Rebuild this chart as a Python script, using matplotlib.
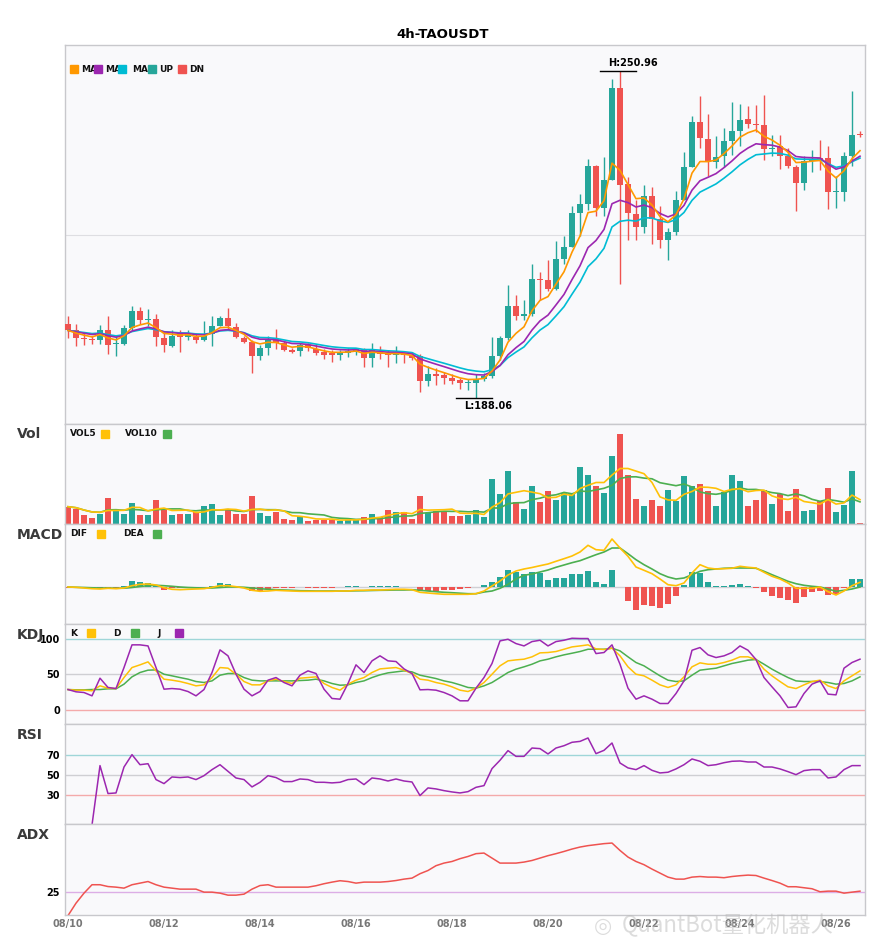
import numpy as np
import pandas as pd
import matplotlib
matplotlib.use('Agg')
import matplotlib.pyplot as plt
from matplotlib.patches import Rectangle

# данные свечей 4h TAOUSDT (читано с картинки)
opens = [202.37, 201.08, 199.48, 199.42, 199.15, 201.21, 198.38, 198.38, 201.60, 204.81,
         203.14, 203.27, 199.67, 198.13, 200.38, 199.81, 199.81, 199.15, 200.44, 201.98,
         203.52, 201.73, 199.67, 198.90, 196.07, 197.61, 199.42, 198.65, 197.36, 197.10,
         198.27, 197.50, 196.84, 196.72, 196.26, 196.65, 196.92, 197.36, 195.70, 196.92,
         196.52, 196.30, 196.65, 196.40, 196.07, 191.25, 192.74, 192.49, 191.97, 191.45,
         190.94, 191.00, 191.71, 192.20, 196.07, 199.62, 205.70, 203.90, 204.30, 211.04,
         210.85, 209.05, 214.83, 217.10, 223.69, 225.48, 232.80, 224.58, 230.10, 247.76,
         229.33, 223.55, 221.00, 226.89, 222.53, 218.42, 219.96, 226.12, 232.54, 241.27,
         237.94, 233.57, 234.59, 237.62, 239.54, 241.85, 240.89, 240.70, 236.07, 236.52,
         234.72, 232.54, 229.46, 233.63, 234.20, 234.20, 227.67, 227.80, 234.72, 238.90]
highs = [203.91, 202.37, 200.69, 199.92, 202.18, 203.91, 199.92, 202.18, 205.83, 205.58,
         205.20, 204.29, 200.83, 201.21, 201.21, 201.21, 200.58, 202.89, 203.91, 203.91,
         205.45, 202.50, 199.92, 199.29, 198.33, 199.92, 201.35, 198.96, 197.75, 198.71,
         198.71, 198.52, 197.50, 197.36, 197.36, 197.69, 197.75, 197.75, 198.65, 197.99,
         197.23, 197.99, 196.72, 196.84, 196.59, 194.15, 193.76, 193.13, 192.74, 191.97,
         191.78, 192.74, 192.93, 199.81, 200.06, 209.88, 207.95, 206.99, 213.92, 212.25,
         214.70, 218.22, 219.18, 224.96, 227.40, 234.15, 232.99, 234.47, 249.55, 250.96,
         230.62, 226.25, 229.14, 228.62, 224.96, 220.80, 227.98, 235.36, 242.30, 246.15,
         242.68, 238.44, 240.06, 245.12, 244.60, 244.22, 244.55, 246.47, 238.77, 238.77,
         236.20, 232.99, 234.59, 235.75, 237.80, 236.52, 230.74, 235.36, 247.11, 239.41]
lows = [199.54, 197.99, 198.27, 198.38, 198.38, 196.45, 196.07, 198.19, 201.21, 202.37,
        201.85, 197.99, 196.98, 197.88, 196.84, 199.15, 198.65, 198.96, 197.99, 201.85,
        201.21, 199.67, 198.65, 192.87, 195.44, 196.40, 197.50, 197.17, 196.79, 196.07,
        197.04, 196.40, 195.57, 194.92, 195.44, 196.00, 196.40, 194.09, 194.09, 195.63,
        194.03, 194.80, 194.80, 195.44, 189.14, 190.43, 190.62, 190.81, 190.81, 189.86,
        189.66, 188.06, 191.39, 191.97, 195.44, 199.29, 203.00, 203.00, 203.90, 206.99,
        208.60, 208.90, 213.92, 217.10, 219.18, 224.33, 223.04, 223.04, 230.10, 210.07,
        218.55, 218.55, 219.84, 217.78, 216.95, 214.70, 219.50, 226.12, 232.54, 236.20,
        230.87, 232.35, 232.54, 234.92, 236.52, 240.06, 239.21, 233.82, 234.59, 232.16,
        232.30, 224.00, 228.18, 231.51, 232.03, 224.46, 224.65, 225.92, 232.67, 238.32]
closes = [201.08, 199.54, 199.36, 199.15, 201.21, 198.27, 198.52, 201.60, 204.81, 203.14,
          203.24, 199.81, 198.27, 200.06, 199.81, 200.38, 199.29, 200.06, 201.98, 203.52,
          201.85, 199.81, 198.90, 196.07, 197.61, 199.42, 198.65, 197.36, 196.98, 198.33,
          197.69, 196.72, 196.40, 196.30, 196.84, 197.04, 197.50, 195.70, 197.36, 196.52,
          196.30, 196.65, 196.30, 195.70, 191.25, 192.74, 192.35, 191.97, 191.39, 190.94,
          191.00, 191.71, 192.20, 196.07, 199.62, 205.70, 203.90, 204.30, 211.04, 210.85,
          209.05, 214.83, 217.10, 223.69, 225.48, 232.80, 224.58, 230.10, 247.76, 229.14,
          223.69, 221.00, 226.89, 222.53, 218.55, 219.96, 226.12, 232.54, 241.27, 238.06,
          233.57, 234.47, 237.62, 239.54, 241.66, 240.89, 240.70, 236.07, 236.30, 234.72,
          232.67, 229.46, 233.63, 234.08, 234.08, 227.67, 227.80, 234.59, 238.77, 238.80]
volume = [17.3, 15.3, 9.3, 6.3, 10.3, 26.3, 15.3, 10.3, 21.3, 9.3,
          9.3, 24.3, 15.3, 9.3, 10.3, 10.3, 12.3, 18.3, 20.3, 9.3,
          14.3, 10.3, 10.3, 28.3, 11.3, 8.3, 12.3, 5.3, 4.3, 8.3,
          3.3, 4.3, 4.3, 4.3, 3.3, 4.3, 4.3, 7.3, 10.3, 7.3,
          14.3, 12.3, 12.3, 5.3, 28.3, 11.3, 13.3, 13.3, 8.3, 8.3,
          9.3, 14.3, 7.3, 45.3, 30.3, 53.3, 22.3, 15.3, 38.3, 22.3,
          33.3, 24.3, 31.3, 31.3, 57.3, 49.3, 38.3, 31.3, 68.3, 90.3,
          49.3, 25.3, 18.3, 24.3, 18.3, 34.3, 23.3, 48.3, 38.3, 40.3,
          33.3, 18.3, 32.3, 49.3, 43.3, 18.3, 24.3, 34.3, 20.3, 30.3,
          13.3, 35.3, 13.3, 14.3, 23.3, 36.3, 12.3, 19.3, 53.3, 0.7]

# индикаторы
dif = [0, -0.3, -1, -1.7, -2, -1.3, -1.7, -1, 1.3, 2.7,
       3, 2, -0.7, -2.3, -2.7, -2.3, -2, -1.7, -0.3, 1.3,
       1.3, 0.3, -1, -3.3, -4.3, -4, -3.3, -3.7, -4, -4.3,
       -4.3, -4.3, -4.3, -4.3, -4, -4, -3.3, -3.3, -3, -3,
       -2.7, -2.3, -2.3, -2.7, -5.3, -6, -6.7, -7.3, -7.3, -7.3,
       -7.3, -6.7, -4, 1, 6, 12, 16, 18, 19.5, 21.3,
       23, 25.7, 28.3, 31, 35, 41.7, 37.3, 36.7, 48, 39,
       30.7, 20, 16.7, 13.3, 8, 2.3, 1.3, 4, 14, 22.3,
       19, 18, 18.3, 18.7, 20.7, 19.7, 19, 14.7, 10.7, 8,
       4, -1.3, -1.3, -1.3, 0, -4.7, -8, -4, 1.3, 4.7]
dea = [0, -0.3, -0.5, -0.8, -1, -1, -1.2, -1.2, -0.5, 0.5,
       1.3, 1.7, 1.3, 0.7, 0, -0.5, -0.8, -1, -1, -0.5,
       0, 0, -0.3, -1, -1.7, -2.3, -2.7, -3, -3.3, -3.7,
       -3.8, -4, -4, -4, -4, -4, -3.8, -3.7, -3.5, -3.3,
       -3.2, -3, -3, -2.8, -3.3, -4, -4.7, -5.3, -5.7, -6.2,
       -6.7, -6.7, -5, -4, -1.3, 2.7, 8, 11.7, 13, 15,
       17, 19.7, 22, 24.3, 26.3, 29.3, 32.3, 35, 39, 39,
       33.3, 27.3, 22.3, 18, 13.3, 10, 8, 9, 12.3, 15.7,
       17.3, 18, 18.7, 19, 19, 19, 18.7, 15.7, 12.3, 9,
       5.7, 3.3, 1.7, 0.7, 0, -2, -4.3, -3.3, -2, 0]
macd_hist = [-0.7, -0.7, -1.3, -1.3, -0.7, -2, -2, 1, 6, 5,
             4, 0.7, -3, -1.3, -1, -1, -1.3, -0.3, 1.3, 4,
             3, 0.3, -1, -4, -3.7, -2, -1.3, -1.3, -0.7, -0.3,
             -0.7, -0.7, -0.7, -0.7, -0.3, 1, 1, -0.3, 1, 1,
             1, 1, 0.3, -0.3, -4, -4, -3.7, -3.3, -3, -2,
             -1, -0.3, 2.3, 5, 10, 17, 15, 12.7, 15, 13.7,
             7.3, 9.3, 9.3, 13.3, 12.7, 16, 5, 2.7, 17, 0.3,
             -14.3, -22.7, -18.3, -18.7, -21.3, -17.3, -9.3, 2.3, 14.7, 14.3,
             5.3, 1, 1, 2, 3.3, 1, -0.7, -5, -9.3, -11,
             -12.7, -15.7, -10, -5, -4, -8, -7.3, -1, 7.7, 8.3]
k_val = [28.6, 27.7, 27.7, 26.8, 33.8, 30.5, 30.0, 45.5, 59.6, 63.4,
         67.6, 54.9, 43.2, 41.8, 39.9, 37.1, 33.8, 35.2, 45.5, 59.6,
         58.7, 50.2, 39.9, 35.2, 35.2, 40.8, 43.2, 39.9, 37.1, 44.6,
         45.5, 46.5, 37.1, 31.5, 27.7, 36.2, 41.8, 45.5, 52.6, 57.7,
         58.7, 59.6, 55.9, 51.2, 43.2, 41.8, 38.5, 36.2, 32.4, 27.7,
         25.8, 30.5, 38.5, 50.2, 62.0, 69.0, 70.4, 71.4, 74.7, 80.3,
         80.8, 82.2, 85.4, 88.7, 90.1, 91.6, 85.9, 85.0, 86.9, 76.1,
         60.6, 50.2, 47.9, 41.8, 35.2, 31.5, 35.2, 46.5, 60.6, 66.2,
         64.3, 64.3, 66.7, 70.0, 74.7, 74.7, 70.9, 57.3, 47.9, 39.9,
         32.4, 30.0, 35.2, 39.9, 41.8, 33.8, 30.0, 40.8, 47.9, 54.9]
d_val = [28.6, 28.2, 28.2, 28.6, 28.6, 29.6, 29.6, 36.2, 46.5, 52.6,
         55.9, 56.3, 50.2, 47.9, 45.5, 43.2, 39.9, 38.5, 40.8, 48.8,
         51.2, 51.2, 45.5, 41.8, 40.8, 40.8, 40.8, 40.8, 40.8, 41.3,
         41.8, 43.2, 40.8, 37.1, 34.7, 35.2, 38.5, 40.8, 45.5, 49.3,
         52.1, 53.5, 54.9, 53.5, 48.8, 46.5, 44.1, 40.8, 38.5, 35.2,
         31.5, 30.5, 33.8, 38.5, 45.5, 52.6, 57.3, 60.6, 64.3, 69.0,
         71.4, 74.7, 77.5, 79.8, 82.2, 85.4, 85.4, 85.4, 86.9, 83.1,
         74.7, 66.7, 62.0, 54.9, 47.9, 41.8, 39.9, 40.8, 48.8, 55.9,
         57.3, 58.7, 62.0, 65.3, 67.6, 70.0, 70.9, 64.3, 57.3, 51.2,
         45.5, 40.8, 39.9, 39.9, 39.9, 38.5, 36.2, 37.1, 40.8, 46.5]
j_val = [28.6, 25.4, 24.4, 19.7, 44.6, 31.5, 30.0, 59.6, 91.6, 91.6,
         90.1, 59.6, 29.1, 30.0, 29.1, 25.8, 19.7, 28.6, 52.6, 84.5,
         76.1, 50.2, 29.1, 19.7, 25.8, 41.8, 45.5, 38.5, 33.8, 48.8,
         54.9, 51.2, 29.1, 16.0, 15.0, 37.1, 63.4, 52.6, 69.0, 76.1,
         69.0, 68.1, 57.7, 51.2, 28.2, 28.6, 27.7, 24.4, 19.7, 12.7,
         12.7, 30.5, 45.5, 65.3, 97.2, 99.5, 93.4, 90.1, 96.2, 98.1,
         90.1, 96.2, 98.1, 100.9, 100.5, 100.5, 79.3, 80.8, 91.6, 64.3,
         30.5, 15.0, 19.7, 15.0, 8.9, 8.9, 23.0, 40.8, 84.0, 87.8,
         77.5, 73.7, 76.1, 80.8, 90.1, 84.0, 70.9, 45.5, 32.4, 19.7,
         3.3, 4.2, 23.0, 36.2, 40.8, 22.1, 21.1, 58.7, 66.7, 71.4]
rsi = [np.nan, np.nan, np.nan, 0, 59.1, 31.3, 31.9, 57.7, 70, 60,
       61, 45.2, 41.2, 47.8, 47.2, 47.8, 45.2, 49.1, 55.1, 60,
       53.4, 46.8, 45.2, 37.9, 42.5, 49.1, 47.2, 43.2, 43.2, 45.8,
       45.2, 42.5, 42.5, 41.9, 42.5, 45.2, 45.8, 40.2, 46.8, 45.8,
       43.8, 45.8, 43.8, 42.8, 29.3, 36.9, 35.9, 34.2, 32.9, 31.9,
       33.2, 37.5, 39.2, 56.1, 64.4, 74, 68.3, 68.3, 76.6, 76,
       70.7, 76.6, 78.9, 82.3, 83.2, 86.6, 71, 74.3, 81.6, 61.7,
       56.8, 55.1, 59.1, 54.4, 51.8, 52.5, 55.8, 60, 65.7, 63.4,
       59.1, 60, 62, 63.4, 63.7, 62.7, 62.7, 57.7, 57.7, 55.8,
       53.1, 50.1, 54.1, 55.1, 55.1, 46.8, 47.8, 55.1, 59.1, 59.1]
adx = [13.3, 19.5, 24.5, 28.7, 28.7, 27.8, 27.5, 27, 28.7, 29.5,
       30.3, 28.7, 27.5, 27, 26.5, 26.5, 26.5, 25, 25, 24.5,
       23.5, 23.5, 24, 26.5, 28.3, 28.7, 27.5, 27.5, 27.5, 27.5,
       27.5, 28.2, 29.2, 30, 30.7, 30.3, 29.5, 30, 30, 30,
       30.3, 30.8, 31.5, 32, 34.2, 35.8, 38.2, 39.5, 40.3, 41.7,
       42.8, 44.2, 44.5, 42, 39.5, 39.5, 39.5, 40, 40.8, 42,
       43.2, 44.2, 45.3, 46.5, 47.5, 48.2, 48.7, 49.2, 49.5, 45.8,
       42.5, 40.3, 38.7, 36.5, 34.5, 32.5, 31.5, 31.5, 32.5, 32.8,
       32.5, 32.5, 32.2, 32.8, 33.2, 33.5, 33.3, 32, 30.8, 29.5,
       27.7, 27.7, 27.2, 26.7, 25.2, 25.5, 25.5, 24.5, 25, 25.5]
date_ticks = ['08/10', '08/12', '08/14', '08/16', '08/18', '08/20', '08/22', '08/24', '08/26']

UP = '#26a69a'
DN = '#ef5350'
BG = '#f9f9fb'
EDGE = '#c8c8cc'

n = len(closes)
x = np.arange(n)
cl = pd.Series(closes)
# скользящие (экспоненциальные) — так линии ложатся как на картинке
ma_fast = cl.ewm(span=5, adjust=False).mean()
ma_mid = cl.ewm(span=10, adjust=False).mean()
ma_slow = cl.ewm(span=14, adjust=False).mean()
vs = pd.Series(volume)
vol5 = vs.rolling(5, min_periods=1).mean()
vol10 = vs.rolling(10, min_periods=1).mean()
colors = [UP if c >= o else DN for o, c in zip(opens, closes)]

W, H = 885, 950
fig = plt.figure(figsize=(W / 100, H / 100), dpi=100)
fig.patch.set_facecolor('white')


def add_panel(top, bottom):
    ax = fig.add_axes([65 / W, 1 - bottom / H, 800 / W, (bottom - top) / H])
    ax.set_facecolor(BG)
    for s in ax.spines.values():
        s.set_color(EDGE)
        s.set_linewidth(1)
    ax.set_xlim(-0.375, n - 0.375)
    ax.tick_params(length=0, labelsize=7)
    ax.set_xticks([])
    ax.set_yticks([])
    return ax


def legend_item(xp, yp, label, color, gap):
    if label:
        fig.text(xp / W, 1 - yp / H, label, fontsize=6.5, fontweight='bold',
                 va='center', ha='left', color='#111111')
    fig.patches.append(Rectangle(((xp + gap) / W, 1 - (yp + 4) / H), 8 / W, 8 / H,
                                 transform=fig.transFigure, color=color, zorder=5))


# главный график
ax = add_panel(45, 424)
ax.set_ylim(183.05, 256.05)
ax.axhline((183.05 + 256.05) / 2, color='#dedee2', lw=0.8, zorder=0)
ax.vlines(x, lows, highs, colors=colors, lw=1, zorder=2)
body_bottom = np.minimum(opens, closes)
body_h = np.maximum(np.abs(np.array(closes) - np.array(opens)), 0.2)
ax.bar(x, body_h, bottom=body_bottom, width=0.68, color=colors, zorder=3)
ax.plot(x, ma_slow, color='#00bcd4', lw=1.2, zorder=4)
ax.plot(x, ma_mid, color='#9c27b0', lw=1.2, zorder=4)
ax.plot(x, ma_fast, color='#ff9800', lw=1.2, zorder=4)
hi_i = int(np.argmax(highs))
lo_i = int(np.argmin(lows))
ax.plot([hi_i - 2.5, hi_i + 2], [highs[hi_i]] * 2, color='black', lw=1)
ax.text(hi_i - 1.5, highs[hi_i] + 0.6, 'H:%.2f' % highs[hi_i], fontsize=7,
        fontweight='bold', ha='left', va='bottom')
ax.plot([lo_i - 2.5, lo_i + 2], [lows[lo_i]] * 2, color='black', lw=1)
ax.text(lo_i - 1.5, lows[lo_i] - 0.6, 'L:%.2f' % lows[lo_i], fontsize=7,
        fontweight='bold', ha='left', va='top')

legend_item(81, 69, 'MA', '#ff9800', -11)
legend_item(105, 69, 'MA', '#9c27b0', -11)
legend_item(132, 69, 'MA', '#00bcd4', -14)
legend_item(159, 69, 'UP', UP, -11)
legend_item(189, 69, 'DN', DN, -11)

# объём
axv = add_panel(424, 524)
axv.set_ylim(0, 100)
axv.bar(x, volume, width=0.66, color=colors)
axv.plot(x, vol10, color='#4caf50', lw=1.2)
axv.plot(x, vol5, color='#ffc107', lw=1.2)
legend_item(70, 434, 'VOL5', '#ffc107', 31)
legend_item(125, 434, 'VOL10', '#4caf50', 38)

# MACD
axm = add_panel(524, 624)
axm.set_ylim(-37, 63)
axm.axhline(0, color='#d0d0d4', lw=1, zorder=0)
hcol = [UP if h >= 0 else DN for h in macd_hist]
axm.bar(x, macd_hist, width=0.66, color=hcol)
axm.plot(x, dea, color='#4caf50', lw=1.2)
axm.plot(x, dif, color='#ffc107', lw=1.2)
legend_item(70, 534, 'DIF', '#ffc107', 27)
legend_item(123, 534, 'DEA', '#4caf50', 30)

# KDJ
axk = add_panel(624, 724)
axk.set_ylim(-20, 121)
axk.axhline(100, color='#9fd6d8', lw=1)
axk.axhline(50, color='#cfcfd3', lw=1)
axk.axhline(0, color='#f4aaaa', lw=1)
axk.plot(x, d_val, color='#4caf50', lw=1.1)
axk.plot(x, k_val, color='#ffc107', lw=1.1)
axk.plot(x, j_val, color='#9c27b0', lw=1.1)
axk.set_yticks([0, 50, 100])
axk.set_yticklabels(['0', '50', '100'], fontweight='bold')
legend_item(70, 633, 'K', '#ffc107', 17)
legend_item(113, 633, 'D', '#4caf50', 18)
legend_item(157, 633, 'J', '#9c27b0', 18)

# RSI
axr = add_panel(724, 824)
axr.set_ylim(1, 100.5)
axr.axhline(70, color='#9fd6d8', lw=1)
axr.axhline(50, color='#cfcfd3', lw=1)
axr.axhline(30, color='#f4aaaa', lw=1)
axr.plot(x, rsi, color='#9c27b0', lw=1.1)
axr.set_yticks([30, 50, 70])
axr.set_yticklabels(['30', '50', '70'], fontweight='bold')

# ADX
axa = add_panel(824, 915)
axa.set_ylim(13.6, 59)
axa.axhline(25, color='#dcaee6', lw=1)
axa.plot(x, adx, color='#ef5350', lw=1.1)
axa.set_yticks([25])
axa.set_yticklabels(['25'], fontweight='bold')
axa.set_xticks(np.arange(0, n, 12))
axa.set_xticklabels(date_ticks, fontweight='bold', color='#777777', fontsize=7)
axa.tick_params(axis='x', pad=3)

fig.text(443 / W, 1 - 34 / H, '4h-TAOUSDT', ha='center', va='center',
         fontsize=9.5, fontweight='bold')
for lab, yp in [('Vol', 434), ('MACD', 535), ('KDJ', 635), ('RSI', 735), ('ADX', 835)]:
    fig.text(17 / W, 1 - yp / H, lab, ha='left', va='center', fontsize=10,
             fontweight='bold', color='#3a3a3a')

# водяной знак
fig.text(622 / W, 1 - 926 / H, 'QuantBot量化机器人', ha='left', va='center',
         fontsize=16, color='#bbbbbb', alpha=0.5,
         family=['Noto Sans CJK SC', 'DejaVu Sans'])
fig.text(603 / W, 1 - 926 / H, '◎', ha='center', va='center', fontsize=15,
         color='#bbbbbb', alpha=0.5)

fig.savefig('out.png', dpi=100)
